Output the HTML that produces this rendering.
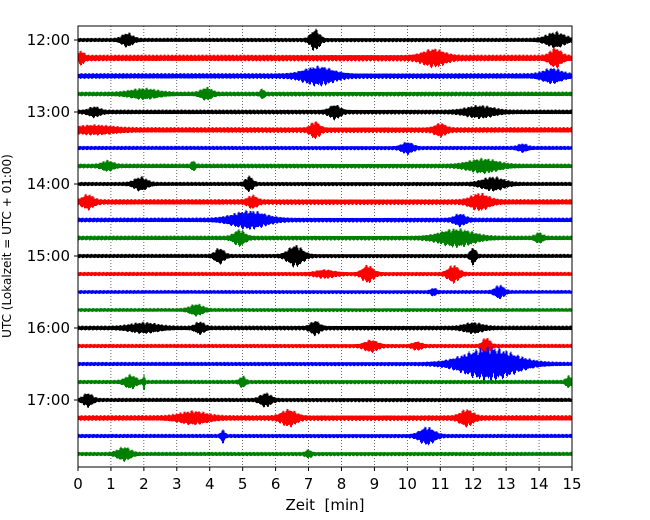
<!DOCTYPE html>
<html><head><meta charset="utf-8"><style>
body{margin:0;background:#fff}
svg{display:block;font-family:"DejaVu Sans","Liberation Sans",sans-serif}
</style></head><body>
<svg id="chart" width="650" height="520" viewBox="0 0 650 520" xmlns="http://www.w3.org/2000/svg">
<g id="grid"></g>
<g id="traces"></g>
<rect x="78" y="26" width="494" height="441" fill="none" stroke="#000" stroke-width="1"/>
<g id="xaxis"></g>
<g id="yaxis"></g>
<text x="325" y="510" font-size="15" text-anchor="middle" xml:space="preserve">Zeit  [min]</text>
<text x="11" y="246" font-size="12" text-anchor="middle" transform="rotate(-90 11 246)">UTC (Lokalzeit = UTC + 01:00)</text>
</svg>
<script>
const xTicks=[0,1,2,3,4,5,6,7,8,9,10,11,12,13,14,15];
const hourLabels=["12:00","13:00","14:00","15:00","16:00","17:00"];
const traceColors=["#000000","#ff0000","#0000ff","#008000"];
const baseNoise=[2.2,3.5,3,2.5,2.5,3,2.2,2.5,2.2,3,2.5,2.5,2.2,2.2,2,2,2.5,2.2,2.2,2.2,2.2,3,2.2,2.2];
const events=[
[[1.5,6,0.6],[7.2,10,0.5],[14.5,7,1]],
[[0.1,5,0.3],[10.8,7,1.2],[14.5,8,0.6]],
[[7.3,8,1.6],[14.4,6,1]],
[[2,4,1.5],[3.9,5,0.6],[5.6,4,0.2]],
[[0.5,4,0.6],[7.8,6,0.6],[12.2,5,1.5]],
[[7.2,7,0.5],[11.0,5,0.6],[0.5,3,2]],
[[10,5,0.6],[13.5,3,0.5]],
[[0.9,4,0.6],[3.5,4,0.2],[12.3,6,1.6]],
[[1.9,6,0.7],[5.2,7,0.4],[12.6,6,1.2]],
[[0.3,6,0.6],[5.3,5,0.5],[12.2,7,1]],
[[5.2,8,1.8],[11.6,5,0.6]],
[[4.9,7,0.6],[11.5,8,1.8],[14.0,4,0.4]],
[[4.3,7,0.5],[6.6,10,0.8],[12,8,0.3]],
[[8.8,8,0.6],[11.4,8,0.6],[7.5,3,1]],
[[12.8,6,0.5],[10.8,3,0.3]],
[[3.6,5,0.7]],
[[2,4,1.5],[3.7,5,0.5],[7.2,6,0.5],[12,4,1]],
[[8.9,5,0.7],[12.4,8,0.4],[10.3,3,0.5]],
[[12.5,16,2.8]],
[[1.6,6,0.6],[2,8,0.1],[5,5,0.3],[14.9,5,0.3]],
[[0.3,6,0.5],[5.7,6,0.6]],
[[3.5,5,1.5],[6.4,7,0.8],[11.8,7,0.7]],
[[4.4,6,0.2],[10.6,8,0.8]],
[[1.4,6,0.7],[7,3,0.3]]
];
const NS="http://www.w3.org/2000/svg";
const X0=78,X1=572,Y0=40,DY=18;
const xs=t=>X0+(X1-X0)*t/15;
const ys=i=>Y0+i*DY;
const grid=document.getElementById('grid');
const xa=document.getElementById('xaxis');
xTicks.forEach(t=>{
 if(t>0&&t<15){const l=document.createElementNS(NS,'line');
 
 
 l.setAttribute('x1',xs(t));l.setAttribute('x2',xs(t));l.setAttribute('y1',26);l.setAttribute('y2',467);
 l.setAttribute('stroke','#000');l.setAttribute('stroke-width','0.6');l.setAttribute('stroke-dasharray','1,2');grid.appendChild(l);}
 const tk=document.createElementNS(NS,'line');
 
 
 tk.setAttribute('x1',xs(t));tk.setAttribute('x2',xs(t));tk.setAttribute('y1',467);tk.setAttribute('y2',471);tk.setAttribute('stroke','#000');xa.appendChild(tk);
 const tx=document.createElementNS(NS,'text');
 
 
 tx.setAttribute('x',xs(t));tx.setAttribute('y',489);tx.setAttribute('font-size','15');tx.setAttribute('text-anchor','middle');tx.textContent=t;xa.appendChild(tx);
});
const ya=document.getElementById('yaxis');
hourLabels.forEach((h,k)=>{
 const y=ys(k*4);
 const tk=document.createElementNS(NS,'line');
 
 
 tk.setAttribute('x1',74);tk.setAttribute('x2',78);tk.setAttribute('y1',y);tk.setAttribute('y2',y);tk.setAttribute('stroke','#000');ya.appendChild(tk);
 const tx=document.createElementNS(NS,'text');
 
 
 tx.setAttribute('x',70);tx.setAttribute('y',y+5);tx.setAttribute('font-size','15');tx.setAttribute('text-anchor','end');tx.textContent=h;ya.appendChild(tx);
});
const tr=document.getElementById('traces');
baseNoise.forEach((b,i)=>{
 const cy=ys(i);let d='';
 const ev=events[i];
 for(let px=0,k=0;px<=X1-X0;px+=0.5,k++){
  const t=px/(X1-X0)*15;
  let a=b*(0.9+0.1*Math.sin(k*2.31+i));
  ev.forEach(e=>{const dt=(t-e[0])/(e[2]/2);a+=e[1]*Math.exp(-dt*dt*2)*(0.65+0.35*Math.abs(Math.sin(k*1.31+i*2)));});
  const s=(k%2?1:-1)*(0.7+0.3*Math.abs(Math.sin(k*2.73+i*0.5)));
  d+=(k?'L':'M')+(X0+px).toFixed(1)+' '+(cy+a*s).toFixed(1);
 }
 const p=document.createElementNS(NS,'path');
 
 
 p.setAttribute('d',d);p.setAttribute('fill','none');p.setAttribute('stroke',traceColors[i%4]);p.setAttribute('stroke-width','1');
 tr.appendChild(p);
});
</script>
</body></html>
